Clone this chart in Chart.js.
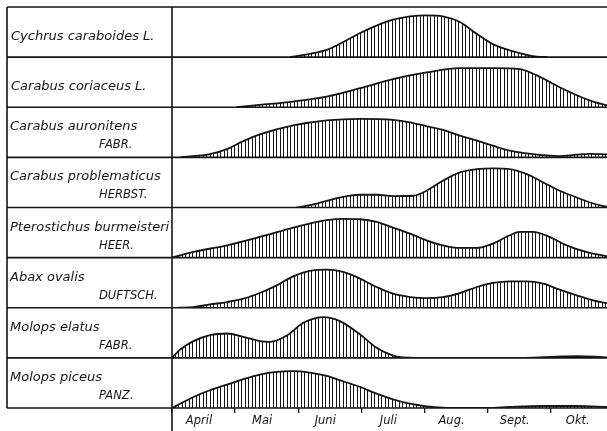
<!DOCTYPE html>
<html>
<head>
<meta charset="utf-8">
<script src="https://cdn.jsdelivr.net/npm/chart.js@4.4.1/dist/chart.umd.min.js"></script>
<style>
html, body { margin: 0; padding: 0; background: #fff; }
</style>
</head>
<body>
<canvas id="chart" width="607" height="431"></canvas>
<script>
const monthLabels = ['April', 'Mai', 'Juni', 'Juli', 'Aug.', 'Sept.', 'Okt.'];
const monthTicks = [0, 1, 2, 3, 4, 5, 6];

const speciesNames = [
    'Cychrus caraboides L.',
    'Carabus coriaceus L.',
    'Carabus auronitens',
    'Carabus problematicus',
    'Pterostichus burmeisteri',
    'Abax ovalis',
    'Molops elatus',
    'Molops piceus'
];
const speciesAuthors = ['', '', 'FABR.', 'HERBST.', 'HEER.', 'DUFTSCH.', 'FABR.', 'PANZ.'];

// [months since 1 April, abundance (0..50)]
const cychrusCaraboides = [[1.87,0],[2.18,3.3],[2.45,7.3],[2.71,15],[2.98,24],[3.25,31.7],[3.5,37.3],[3.77,40.7],[4.04,41.7],[4.29,40.7],[4.56,35],[4.83,23],[5.08,13],[5.35,6.7],[5.62,2.3],[5.78,0.5],[5.95,0]];
const carabusCoriaceus = [[1.02,0],[1.39,2.3],[1.92,5.7],[2.45,10.7],[2.98,19],[3.5,28],[4.03,34.7],[4.56,39],[5.09,39],[5.51,38],[5.77,32],[6.14,20],[6.46,10.7],[6.67,5.7],[6.89,2]];
const carabusAuronitens = [[0.13,0],[0.6,3.3],[0.87,8.3],[1.12,16],[1.39,23],[1.92,32],[2.45,37],[2.98,38.5],[3.5,37.5],[3.77,35],[4.04,31],[4.29,27.5],[4.56,21.7],[4.83,16.7],[5.08,11.7],[5.35,6.7],[5.62,4],[5.87,2.3],[6.14,1.3],[6.41,2.7],[6.62,3.5],[6.89,3]];
const carabusProblematicus = [[1.97,0],[2.18,2.3],[2.45,6.7],[2.71,10.7],[2.98,12.7],[3.24,12.7],[3.5,11.3],[3.82,11.7],[4.03,16.7],[4.29,26.7],[4.56,35],[4.83,38.3],[5.09,39],[5.35,38.3],[5.62,33.3],[5.88,25],[6.14,16.7],[6.41,10],[6.67,4],[6.89,0.7]];
const pterostichusBurmeisteri = [[0,0],[0.34,5.7],[0.87,12.3],[1.39,20.7],[1.92,30],[2.18,34],[2.45,37.3],[2.71,38.7],[2.98,38.3],[3.24,35.7],[3.5,30],[3.77,24],[4.03,17.3],[4.29,12.3],[4.56,9.7],[4.83,9.7],[5.08,14],[5.35,22.3],[5.51,25.7],[5.72,25.7],[5.98,20.7],[6.25,12.3],[6.56,5.7],[6.89,1.3]];
const abaxOvalis = [[0.1,0],[0.34,0.7],[0.6,3.3],[0.87,5.7],[1.13,9],[1.39,14.7],[1.66,22.3],[1.92,31.3],[2.18,36.7],[2.45,38],[2.71,35.7],[2.98,29],[3.24,20.7],[3.5,14],[3.77,10.7],[4.03,9.7],[4.29,10.7],[4.56,14.7],[4.83,20.7],[5.08,24.7],[5.35,26.3],[5.62,26.3],[5.88,24],[6.14,18],[6.41,12.3],[6.67,7.3],[6.89,4.5]];
const molopsElatus = [[0,0],[0.13,8.3],[0.34,16.7],[0.6,22.7],[0.87,24.3],[1.13,21],[1.39,16.7],[1.55,16],[1.82,22.3],[2.08,35],[2.4,40.7],[2.66,36.7],[2.98,23.3],[3.24,10],[3.5,2.3],[3.66,0.5],[3.85,0],[5.6,0],[6.1,1.2],[6.41,1.7],[6.7,1.2],[6.89,0.5]];
const molopsPiceus = [[0,0],[0.34,11],[0.6,17.7],[0.87,23.3],[1.13,28.7],[1.39,33.3],[1.66,36],[1.92,36.7],[2.18,35.3],[2.45,32],[2.71,26.7],[2.98,21],[3.24,14.3],[3.5,8.7],[3.77,4.3],[4.03,1.7],[4.29,0.3],[4.6,0],[5.0,0],[5.35,1],[5.88,2],[6.41,2],[6.89,1]];

const speciesSeries = [cychrusCaraboides, carabusCoriaceus, carabusAuronitens, carabusProblematicus,
                       pterostichusBurmeisteri, abaxOvalis, molopsElatus, molopsPiceus];

const INK = '#151515';

function makeHatch(){
    const c = document.createElement('canvas');
    c.width = 7; c.height = 4;
    const g = c.getContext('2d');
    g.fillStyle = INK;
    g.fillRect(0, 0, 1, 4);
    g.fillRect(3, 0, 1, 4);
    return g.createPattern(c, 'repeat');
}
const hatch = makeHatch();

// left column with species names + row lines
const labelColumn = {
    id: 'labelColumn',
    beforeDatasetsDraw(chart){
        const ctx = chart.ctx;
        const area = chart.chartArea;
        const boxLeft = 7;
        ctx.save();
        ctx.strokeStyle = INK;
        ctx.lineWidth = 1.6;
        ctx.beginPath();
        ctx.moveTo(boxLeft, area.top); ctx.lineTo(area.right, area.top);
        speciesNames.forEach((n, i) => {
            const y = chart.scales['y' + i].getPixelForValue(0);
            ctx.moveTo(boxLeft, y); ctx.lineTo(area.right, y);
        });
        ctx.moveTo(boxLeft, area.top); ctx.lineTo(boxLeft, area.bottom);
        ctx.moveTo(area.left, area.top); ctx.lineTo(area.left, chart.height);
        ctx.stroke();

        ctx.fillStyle = INK;
        ctx.textBaseline = 'alphabetic';
        speciesNames.forEach((n, i) => {
            const top = chart.scales['y' + i].top;
            ctx.font = 'italic 13px "DejaVu Sans"';
            if(speciesAuthors[i]){
                ctx.fillText(n, 10, top + 23);
                ctx.font = 'italic 11.5px "DejaVu Sans"';
                ctx.fillText(speciesAuthors[i], 99, top + 41);
            } else {
                ctx.fillText(n, 11, top + 33);
            }
        });
        ctx.restore();
    }
};

const yScales = {};
speciesNames.forEach((n, i) => {
    yScales['y' + i] = {
        type: 'linear',
        display: false,
        position: 'left',
        stack: 'rows',
        stackWeight: 1,
        weight: speciesNames.length - i,
        min: 0,
        max: 50
    };
});

new Chart(document.getElementById('chart'), {
    type: 'line',
    data: {
        datasets: speciesSeries.map((pts, i) => ({
            label: speciesNames[i],
            data: pts.map(p => ({x: p[0], y: p[1]})),
            yAxisID: 'y' + i,
            borderColor: INK,
            borderWidth: 1.8,
            backgroundColor: hatch,
            fill: 'origin',
            pointRadius: 0,
            cubicInterpolationMode: 'monotone'
        }))
    },
    options: {
        responsive: false,
        animation: false,
        layout: { padding: { left: 172, top: 7, right: 0, bottom: 0 } },
        scales: Object.assign({
            x: {
                type: 'linear',
                min: 0,
                max: 6.89,
                afterBuildTicks: s => { s.ticks = monthTicks.map(v => ({value: v})); },
                afterFit: s => { s.height = 23; },
                ticks: {
                    callback: (v, i) => monthLabels[i],
                    labelOffset: 27,
                    maxRotation: 0,
                    autoSkip: false,
                    padding: 1,
                    color: INK,
                    font: { family: 'DejaVu Sans', style: 'italic', size: 11.5 }
                },
                grid: { drawOnChartArea: false, drawTicks: true, tickLength: 5, color: INK, lineWidth: 1.3 },
                border: { display: false }
            }
        }, yScales),
        plugins: {
            legend: { display: false },
            tooltip: { enabled: false }
        }
    },
    plugins: [labelColumn]
});
</script>
</body>
</html>
